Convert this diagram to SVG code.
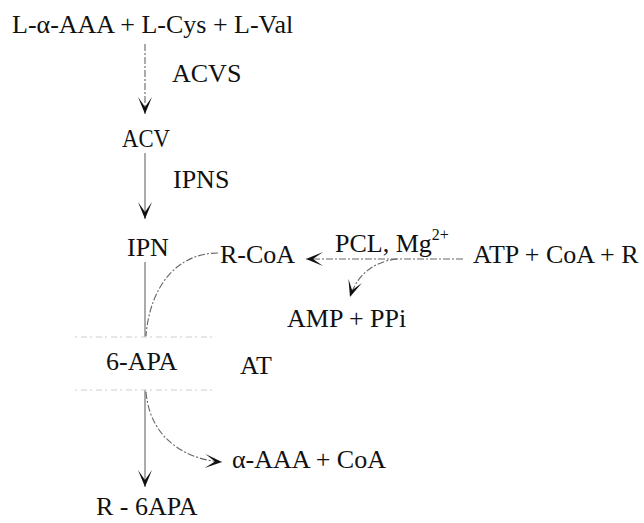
<svg xmlns="http://www.w3.org/2000/svg" width="644" height="523" viewBox="0 0 644 523">
  <style>
    text { font-family: "Liberation Serif", "Times New Roman", serif; font-size: 26px; fill: #111; }
    .sup { font-size: 16px; }
    .ln { fill: none; stroke: #666; stroke-width: 1.1; }
    .dash { stroke-dasharray: 7 2 2 2; }
    .faint { fill: none; stroke: #cdcdcd; stroke-width: 1; stroke-dasharray: 2 4 6 3; }
  </style>
  <defs>
    <marker id="head" viewBox="-18 -8 19 16" refX="0" refY="0" markerWidth="19" markerHeight="16" markerUnits="userSpaceOnUse" orient="auto">
      <path d="M0,0 L-17,-7 L-7,0 L-17,7 Z" fill="#111"/>
    </marker>
  </defs>

  <rect width="644" height="523" fill="#fff"/>

  <!-- connectors -->
  <g id="connectors">
    <path class="ln dash" d="M145,44 L145,114" marker-end="url(#head)"/>
    <path class="ln" d="M145,153 L145,219" marker-end="url(#head)"/>
    <path class="ln" d="M145,262 L145,337"/>
    <path class="ln dash" d="M218,253 C178,253 150,285 146,336"/>
    <path class="ln dash" d="M463,259 L306,259" marker-end="url(#head)"/>
    <path class="ln dash" d="M397,259 C370,262 356,278 350,297" marker-end="url(#head)"/>
    <path class="ln" d="M145,390 L145,487" marker-end="url(#head)"/>
    <path class="ln dash" d="M146,392 C150,440 188,460 222,462" marker-end="url(#head)"/>
    <path class="faint" d="M75,337 L212,337 M75,390 L212,390"/>
  </g>

  <g id="n-substrates"><text x="12" y="33">L-α-AAA + L-Cys + L-Val</text></g>
  <g id="lbl-acvs"><text x="172" y="82">ACVS</text></g>
  <g id="n-acv"><text x="122" y="147" textLength="48" lengthAdjust="spacingAndGlyphs">ACV</text></g>
  <g id="lbl-ipns"><text x="173" y="188">IPNS</text></g>
  <g id="n-ipn"><text x="127" y="256">IPN</text></g>
  <g id="n-rcoa"><text x="220" y="263">R-CoA</text></g>
  <g id="lbl-pcl"><text x="335" y="252">PCL, Mg<tspan class="sup" dy="-12">2+</tspan></text></g>
  <g id="n-atp"><text x="473" y="263">ATP + CoA + R</text></g>
  <g id="n-amp"><text x="287" y="327">AMP + PPi</text></g>
  <g id="n-6apa"><text x="106" y="370">6-APA</text></g>
  <g id="lbl-at"><text x="240" y="374">AT</text></g>
  <g id="n-aaa"><text x="232" y="468">α-AAA + CoA</text></g>
  <g id="n-r6apa"><text x="96" y="515">R - 6APA</text></g>
</svg>
